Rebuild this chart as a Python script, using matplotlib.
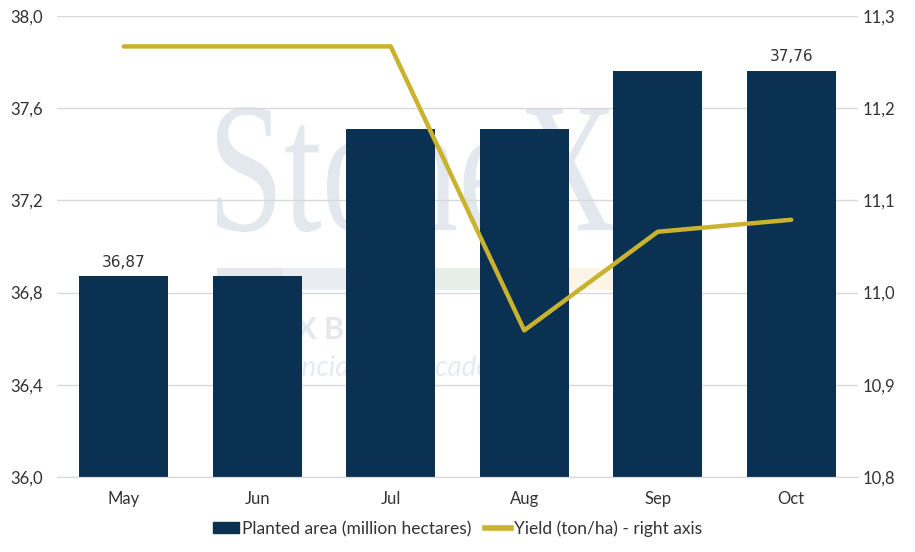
import matplotlib.pyplot as plt
import numpy as np
from matplotlib.patches import Patch, PathPatch, Rectangle
from matplotlib.lines import Line2D
from matplotlib.textpath import TextPath
from matplotlib.font_manager import FontProperties
from matplotlib.transforms import Affine2D, IdentityTransform

months = ["May", "Jun", "Jul", "Aug", "Sep", "Oct"]
area = [36.87, 36.87, 37.51, 37.51, 37.76, 37.76]
yield_t = [11.267, 11.267, 11.267, 10.959, 11.066, 11.079]
area_labels = {0: "36,87", 5: "37,76"}

bar_col = "#0b3152"
line_col = "#c8b22e"
txt_col = "#333333"

plt.rcParams['font.family'] = ['Lato', 'DejaVu Sans']

fig = plt.figure(figsize=(9.15, 5.52), dpi=100)
ax = fig.add_axes([0.0623, 0.1359, 0.8754, 0.8351])
ax2 = ax.twinx()

x = np.arange(len(months))

# faint watermark (pixel coords, drawn behind everything)
tp = TextPath((0, 0), "StoneX", size=1, prop=FontProperties(family="Liberation Serif"))
ext = tp.get_extents()
x0, x1, y0, y1 = 217, 615, 320, 445
tr = Affine2D().translate(-ext.x0, -ext.y0).scale((x1 - x0) / ext.width, (y1 - y0) / ext.height).translate(x0, y0)
wm = PathPatch(tr.transform_path(tp), transform=IdentityTransform(), facecolor="#e3e7ee",
               edgecolor="none", zorder=0.1)
ax.add_artist(wm)
for bx0, bx1, c in [(217, 283, "#e4e8ee"), (283, 433, "#e9edf2"), (433, 570, "#e6eee9"), (570, 614, "#fcf4e7")]:
    ax.add_artist(Rectangle((bx0, 262), bx1 - bx0, 22, transform=IdentityTransform(),
                            facecolor=c, edgecolor="none", zorder=0.1))
ax.text(217, 222, "StoneX Brasil", transform=IdentityTransform(), fontsize=22, fontweight="bold",
        color="#e4e7ec", va="center", ha="left", zorder=0.1)
ax.text(217, 184, "Inteligência de mercado", transform=IdentityTransform(), fontsize=20, style="italic",
        color="#e6e9ee", va="center", ha="left", zorder=0.1)

ax.bar(x, area, width=0.67, color=bar_col, zorder=2)
for i, lab in area_labels.items():
    ax.text(x[i], area[i] + 0.03, lab, ha="center", va="bottom",
            fontsize=11, family="DejaVu Sans", color=txt_col)

ax.set_ylim(36.0, 38.0)
ax.set_yticks(np.arange(36.0, 38.01, 0.4))
ax.set_yticklabels([f"{v:.1f}".replace(".", ",") for v in np.arange(36.0, 38.01, 0.4)])
ax.set_xlim(-0.5, len(months) - 0.5)
ax.set_xticks(x)
ax.set_xticklabels(months)
ax.grid(axis="y", color="#d9d9d9", linewidth=1)
ax.set_axisbelow(True)

ax2.plot(x, yield_t, color=line_col, linewidth=3.2, solid_capstyle="round", zorder=3)
ax2.set_ylim(10.8, 11.3)
ax2.set_yticks(np.arange(10.8, 11.31, 0.1))
ax2.set_yticklabels([f"{v:.1f}".replace(".", ",") for v in np.arange(10.8, 11.31, 0.1)])

for a in (ax, ax2):
    for s in ("top", "left", "right"):
        a.spines[s].set_visible(False)
    a.spines["bottom"].set_color("#d9d9d9")
    a.tick_params(length=0, labelsize=12, colors=txt_col)
ax.tick_params(axis="y", pad=10)
ax.tick_params(axis="x", pad=10)
ax2.tick_params(axis="y", pad=3)

# legend
handles = [Patch(color=bar_col, label="Planted area (million hectares)"),
           Line2D([], [], color=line_col, linewidth=4, label="Yield (ton/ha) - right axis")]
fig.legend(handles=handles, loc="center", bbox_to_anchor=(0.5, 0.042), ncol=2,
           frameon=False, fontsize=12.5, handlelength=1.5, handleheight=0.6, handletextpad=0.15,
           columnspacing=0.8, labelcolor=txt_col)

fig.savefig("out.png", dpi=100)
